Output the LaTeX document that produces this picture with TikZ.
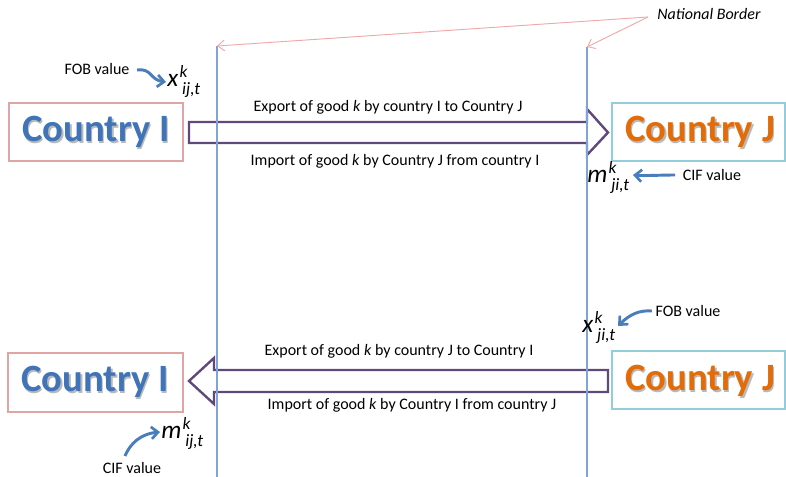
\documentclass[tikz,border=0pt]{standalone}
\usepackage{fontspec}
\setmainfont{Carlito}
\usetikzlibrary{arrows.meta}
\definecolor{cblue}{HTML}{3F74B8}
\definecolor{corange}{HTML}{E36C09}
\definecolor{bpink}{HTML}{E0A4A4}
\definecolor{bcyan}{HTML}{92CDDC}
\definecolor{apurple}{HTML}{5F497A}
\definecolor{lblue}{HTML}{7FA5D6}
\definecolor{npink}{HTML}{F0A8A8}
\definecolor{arblue}{HTML}{4A7EBB}
\newcommand{\vlab}[3]{{\fontsize{19}{19}\selectfont\itshape #1\kern1pt\rlap{\raisebox{7pt}{\fontsize{13}{13}\selectfont #2}}\kern2pt\raisebox{-5.5pt}{\fontsize{13}{13}\selectfont #3}}}
\begin{document}
\begin{tikzpicture}[x=0.75pt,y=-0.75pt,
  ctext/.style={font=\fontsize{29}{29}\selectfont\bfseries},
  flowtext/.style={font=\fontsize{12}{13}\selectfont},
  smalltext/.style={font=\fontsize{12}{13}\selectfont},
  bigarrow/.style={draw=apurple,line width=1.8pt,fill=white,line join=miter},
  border/.style={draw=lblue,line width=0.9pt},
  natline/.style={draw=npink,line width=0.7pt,-{Straight Barb[length=5pt,width=8pt]}},
  vararrow/.style={draw=arblue,line width=2.2pt,-{Straight Barb[length=5pt,width=9pt,line width=2pt]}}
]
\useasboundingbox (0,0) rectangle (786,477);
% boxes
\draw[draw=bpink,line width=0.8pt] (9,103) rectangle (183,161);
\draw[draw=bcyan,line width=0.9pt] (612,103) rectangle (785,161);
\draw[draw=bpink,line width=0.8pt] (8,353) rectangle (183,412);
\draw[draw=bcyan,line width=0.9pt] (612,351) rectangle (785,409);
% country texts with shadow
\node[ctext,text=black!55,opacity=0.5] at (97.5,133.5) {Country I};
\node[ctext,text=cblue] (cI1) at (96,132) {Country I};
\node[ctext,text=black!55,opacity=0.5] at (701.5,133.5) {Country J};
\node[ctext,text=corange] (cJ1) at (700,132) {Country J};
\node[ctext,text=black!55,opacity=0.5] at (96.5,383.5) {Country I};
\node[ctext,text=cblue] (cI2) at (95,382) {Country I};
\node[ctext,text=black!55,opacity=0.5] at (701.5,382.5) {Country J};
\node[ctext,text=corange] (cJ2) at (700,381) {Country J};
% big arrows
\draw[bigarrow] (189,122) -- (587,122) -- (587,109) -- (608,132.5) -- (587,155) -- (587,143) -- (189,143) -- cycle;
\draw[bigarrow] (608,370) -- (214,370) -- (214,358) -- (189,381) -- (214,404) -- (214,392) -- (608,392) -- cycle;
% borders
\coordinate (b1t) at (217,46);
\coordinate (b1b) at (217,477);
\coordinate (b2t) at (587,47);
\coordinate (b2b) at (587,477);
\draw[border] (b1t) -- (b1b);
\draw[border] (b2t) -- (b2b);
% national border
\node[font=\fontsize{12}{13}\selectfont\itshape] (nb) at (709,14) {National Border};
\coordinate (nbs) at (648,17);
\draw[natline] (nbs) -- (b1t);
\draw[natline] (nbs) -- (b2t);
% flow texts
\node[flowtext] (t1) at (388,107) {Export of good \textit{k} by country I to Country J};
\node[flowtext] (t2) at (395,161) {Import of good \textit{k} by Country J from country I};
\node[flowtext] (t3) at (399,351) {Export of good \textit{k} by country J to Country I};
\node[flowtext] (t4) at (412,405) {Import of good \textit{k} by Country I from country J};
% variable labels
\node[anchor=base west,inner sep=0pt] (x1) at (167,87) {\vlab{x}{k}{ij,t}};
\node[anchor=base west,inner sep=0pt] (m1) at (587,183) {\vlab{m}{k}{ji,t}};
\node[anchor=base west,inner sep=0pt] (x2) at (582,333) {\vlab{x}{k}{ji,t}};
\node[anchor=base west,inner sep=0pt] (m2) at (161,439) {\vlab{m}{k}{ij,t}};
% value labels
\node[smalltext] (fob1) at (97,69) {FOB value};
\node[smalltext] (cif1) at (712,175) {CIF value};
\node[smalltext] (fob2) at (688,311) {FOB value};
\node[smalltext] (cif2) at (132,468) {CIF value};
% value arrows
\draw[vararrow] (fob1.east) ++(3,1) .. controls (152,68) and (150,80) .. (166,82);
\draw[vararrow] (cif1.west) ++(-3,0) .. controls (660,175) and (645,176) .. (633,175);
\draw[vararrow] (fob2.west) ++(1,0) .. controls (640,310) and (630,314) .. (618,326);
\draw[vararrow] (125,456) .. controls (130,444) and (140,434) .. (160,432);
\end{tikzpicture}
\end{document}
